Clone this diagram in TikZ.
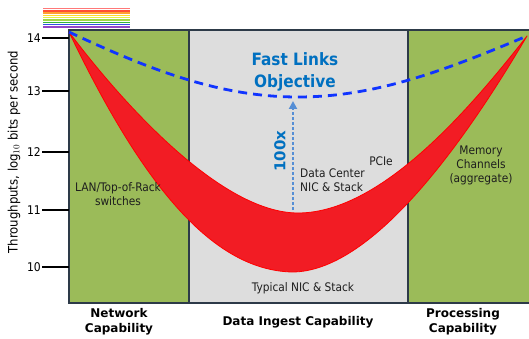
\documentclass[tikz,border=0pt]{standalone}
\usepackage{fontspec}
\setmainfont{DejaVu Sans}
\newfontfamily\condfont{DejaVu Sans Condensed}
\usetikzlibrary{arrows.meta}

\definecolor{panelgreen}{RGB}{155,187,89}
\definecolor{panelgray}{RGB}{221,221,221}
\definecolor{framecol}{RGB}{45,58,72}
\definecolor{bandred}{RGB}{242,28,36}
\definecolor{objblue}{RGB}{16,52,255}
\definecolor{titleblue}{RGB}{0,112,192}
\definecolor{arrowblue}{RGB}{85,142,213}
\definecolor{labeltext}{RGB}{30,30,30}

\tikzset{
  panel/.style={draw=framecol, line width=1.2pt},
  tickline/.style={draw=black, line width=1.6pt},
  ticklabel/.style={anchor=east, inner sep=0pt, font=\condfont\fontsize{12}{14}\selectfont},
  small/.style={inner sep=0pt, text=labeltext, font=\condfont\fontsize{11.8}{14}\selectfont},
  caption/.style={inner sep=0pt, align=center, font=\bfseries\fontsize{12}{15}\selectfont},
  rainbow/.style={line width=1.4pt}
}

\begin{document}
\begin{tikzpicture}[x=1pt,y=-1pt]
\useasboundingbox (0,0) rectangle (529,339);
\fill[white] (0,0) rectangle (529,339);

% colour stripes above the axis
\foreach \c [count=\i] in {{255,120,120},{255,80,50},{255,160,50},{255,220,40},{230,240,70},{160,215,70},{50,180,60},{50,80,230},{150,70,200}} {
  \definecolor{stripe}{RGB}{\c}
  \draw[rainbow, stripe] (43,{6.3+2.3*\i}) -- (130,{6.3+2.3*\i});
}

% three capability panels
\fill[panelgreen] (69,30) rectangle (189,303);
\fill[panelgray] (189,30) rectangle (408,303);
\fill[panelgreen] (408,30) rectangle (529,303);
\draw[panel] (189,30) -- (189,303);
\draw[panel] (408,30) -- (408,303);
\draw[panel, line width=1.6pt] (529,30) -- (69,30) -- (69,303) -- (529,303);

% axis ticks
\foreach \v/\y in {14/38,13/91,12/152,11/210,10/267} {
  \draw[tickline] (42,\y) -- (69,\y);
  \node[ticklabel] (t\v) at (41,\y) {\v};
}
\node[inner sep=0pt, rotate=90, font=\condfont\fontsize{13}{15}\selectfont] (ylab) at (14,152)
  {Throughputs, log$_{10}$ bits per second};

% red throughput band
\coordinate (tl) at (69,32);
\coordinate (tr) at (527,36);
\fill[bandred, draw=red, line width=0.8pt, line join=round]
  (tl) .. controls (140,180) and (210,270) .. (292,272)
       .. controls (370,272) and (460,150) .. (tr)
       .. controls (478,98) and (385,213) .. (298,213)
       .. controls (220,213) and (120,100) .. (tl) -- cycle;

% objective curve
\draw[objblue, line width=2.8pt, dash pattern=on 9pt off 6pt]
  (tl) .. controls (150,70) and (220,97) .. (298,97)
       .. controls (376,97) and (446,70) .. (tr);

% 100x improvement arrow
\coordinate (arrlow) at (293,210);
\coordinate (arrhigh) at (293,101);
\draw[arrowblue, line width=2.6pt, dash pattern=on 2.6pt off 2.4pt,
      -{Triangle[width=8pt,length=8pt]}] (arrlow) -- (arrhigh);
\node[inner sep=0pt, rotate=90, text=titleblue, font=\bfseries\fontsize{15}{17}\selectfont] (hundred) at (280,151) {100x};

\node[inner sep=0pt, align=center, text=titleblue, font=\condfont\bfseries\fontsize{17}{22}\selectfont] (fast) at (295,72)
  {Fast Links\\Objective};

% panel labels
\node[small, align=center] (lan) at (118,194) {LAN/Top-of-Rack\\switches};
\node[small, align=left, anchor=west] (dc) at (300,180.5) {Data Center\\NIC \& Stack};
\node[small, anchor=base] (pcie) at (381,165) {PCIe};
\node[small, align=center] (mem) at (481,165) {Memory\\Channels\\(aggregate)};
\node[small, anchor=base] (typ) at (303,291) {Typical NIC \& Stack};

% captions below the panels
\node[caption] (net) at (119,322) {Network\\Capability};
\node[caption, anchor=base] (ingest) at (298,325) {Data Ingest Capability};
\node[caption] (proc) at (463,322) {Processing\\Capability};
\end{tikzpicture}
\end{document}
